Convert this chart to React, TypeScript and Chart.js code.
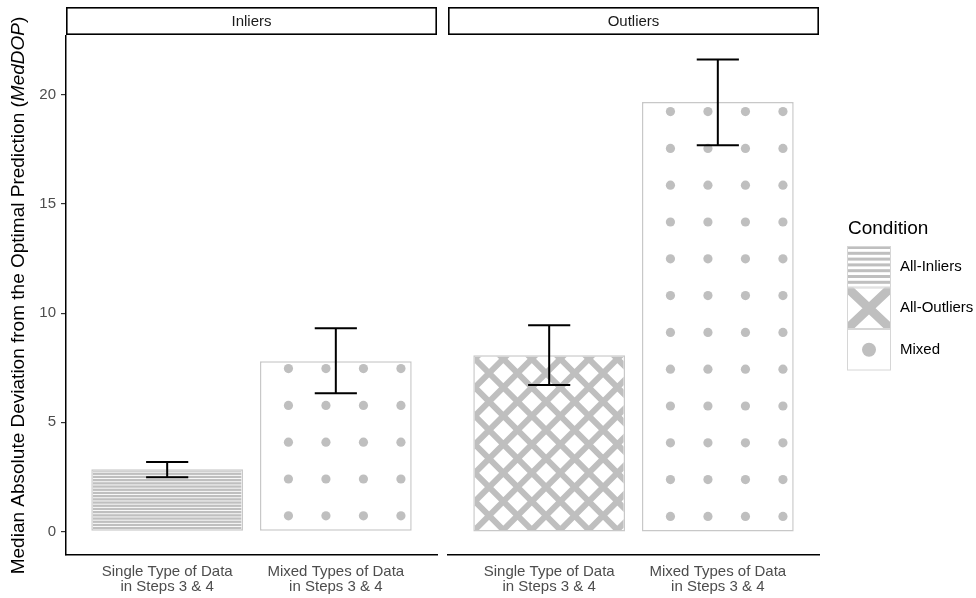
import React, { useEffect, useRef } from "react";
import { Chart, registerables } from "chart.js";
Chart.register(...registerables);

// ---------- data ----------
const panels = ["Inliers", "Outliers"];
const categories = [
  ["Single Type of Data", "in Steps 3 & 4"],
  ["Mixed Types of Data", "in Steps 3 & 4"],
];
const xPositions = [1, 2];
const inliersValues = [2.85, 7.8];
const inliersLow = [2.48, 6.33];
const inliersHigh = [3.18, 9.31];
const inliersCondition = ["All-Inliers", "Mixed"];
const outliersValues = [8.07, 19.68];
const outliersLow = [6.71, 17.7];
const outliersHigh = [9.45, 21.62];
const outliersCondition = ["All-Outliers", "Mixed"];
const legendConditions = ["All-Inliers", "All-Outliers", "Mixed"];
const legendTitle = "Condition";
const yTicks = [0, 5, 10, 15, 20];
const yTitleMain = "Median Absolute Deviation from the Optimal Prediction (";
const yTitleItalic = "MedDOP";
const yTitleEnd = ")";

// ---------- styles ----------
const FONT = "'Liberation Sans', Arial, Helvetica, sans-serif";
const PATTERN_GRAY = "#bfbfbf";
const BAR_BORDER = "#c8c8c8";
const W = 976;
const H = 598;

const allHigh = [...inliersHigh, ...outliersHigh];
const dataMax = Math.max(...allHigh);
const dataMin = 0;
const yExp = (dataMax - dataMin) * 0.05;
const yMin = dataMin - yExp;
const yMax = dataMax + yExp;

function drawStripes(ctx: CanvasRenderingContext2D, l: number, t: number, r: number, b: number, period: number, grayH: number) {
  ctx.fillStyle = PATTERN_GRAY;
  for (let y = b; y > t - period; y -= period) {
    ctx.fillRect(l, y - grayH, r - l, grayH);
  }
}

function drawCrosshatch(ctx: CanvasRenderingContext2D, l: number, t: number, r: number, b: number, p: number, lw: number) {
  ctx.strokeStyle = PATTERN_GRAY;
  ctx.lineWidth = lw;
  const L = (b - t) + (r - l) + p;
  const n = Math.ceil(L / p) + 1;
  ctx.beginPath();
  for (let k = -n; k <= n; k++) {
    const x = l + k * p;
    ctx.moveTo(x - L, b + L);
    ctx.lineTo(x + L, b - L);
    ctx.moveTo(x - L, b - L);
    ctx.lineTo(x + L, b + L);
  }
  ctx.stroke();
}

function drawDots(ctx: CanvasRenderingContext2D, l: number, t: number, r: number, b: number) {
  const offX = 27, offY = 13.5, sx = 37.5, sy = 36.8, rad = 4.6;
  ctx.fillStyle = PATTERN_GRAY;
  for (let cy = b - offY; cy - rad > t; cy -= sy) {
    for (let cx = l + offX; cx + rad < r; cx += sx) {
      ctx.beginPath();
      ctx.arc(cx, cy, rad, 0, Math.PI * 2);
      ctx.fill();
    }
  }
}

function fillPattern(ctx: CanvasRenderingContext2D, cond: string, l: number, t: number, r: number, b: number) {
  ctx.save();
  ctx.beginPath();
  ctx.rect(l, t, r - l, b - t);
  ctx.clip();
  if (cond === "All-Inliers") drawStripes(ctx, l, t, r, b, 3.2, 2.3);
  else if (cond === "All-Outliers") drawCrosshatch(ctx, l, t, r, b, 28.5, 6);
  else drawDots(ctx, l, t, r, b);
  ctx.restore();
}

function panelPlugin(idx: number) {
  const conds = idx === 0 ? inliersCondition : outliersCondition;
  const lows = idx === 0 ? inliersLow : outliersLow;
  const highs = idx === 0 ? inliersHigh : outliersHigh;
  return {
    id: "panel" + idx,
    afterDatasetsDraw(chart: any) {
      const ctx: CanvasRenderingContext2D = chart.ctx;
      const meta = chart.getDatasetMeta(0);
      const xs = chart.scales.x;
      const ys = chart.scales.y;
      const bw = 1.5;
      meta.data.forEach((el: any, i: number) => {
        const l = el.x - el.width / 2 + bw;
        const r = el.x + el.width / 2 - bw;
        const t = Math.min(el.y, el.base) + bw;
        const b = Math.max(el.y, el.base) - bw;
        fillPattern(ctx, conds[i], l, t, r, b);
      });
      // error bars
      ctx.save();
      ctx.strokeStyle = "#000";
      ctx.lineWidth = 2;
      xPositions.forEach((xv, i) => {
        const cx = xs.getPixelForValue(xv);
        const x0 = xs.getPixelForValue(xv - 0.125);
        const x1 = xs.getPixelForValue(xv + 0.125);
        const yl = ys.getPixelForValue(lows[i]);
        const yh = ys.getPixelForValue(highs[i]);
        ctx.beginPath();
        ctx.moveTo(cx, yl);
        ctx.lineTo(cx, yh);
        ctx.moveTo(x0, yl);
        ctx.lineTo(x1, yl);
        ctx.moveTo(x0, yh);
        ctx.lineTo(x1, yh);
        ctx.stroke();
      });
      ctx.restore();
    },
    afterDraw(chart: any) {
      const ctx: CanvasRenderingContext2D = chart.ctx;
      const ca = chart.chartArea;
      // strip
      ctx.save();
      ctx.fillStyle = "#fff";
      ctx.fillRect(ca.left, 7, ca.right - ca.left, 28);
      ctx.strokeStyle = "#000";
      ctx.lineWidth = 1.6;
      ctx.strokeRect(ca.left + 0.8, 7.8, ca.right - ca.left - 1.6, 26.4);
      ctx.fillStyle = "#1a1a1a";
      ctx.font = `15px ${FONT}`;
      ctx.textAlign = "center";
      ctx.textBaseline = "middle";
      ctx.fillText(panels[idx], (ca.left + ca.right) / 2, 21.5);
      ctx.restore();

      if (idx === 0) {
        // y axis title with italic part
        ctx.save();
        ctx.translate(18.5, (ca.top + ca.bottom) / 2);
        ctx.rotate(-Math.PI / 2);
        ctx.fillStyle = "#000";
        ctx.textBaseline = "middle";
        ctx.textAlign = "left";
        const fN = `19px ${FONT}`;
        const fI = `italic 19px ${FONT}`;
        ctx.font = fN;
        const w1 = ctx.measureText(yTitleMain).width;
        const w3 = ctx.measureText(yTitleEnd).width;
        ctx.font = fI;
        const w2 = ctx.measureText(yTitleItalic).width;
        let x = -(w1 + w2 + w3) / 2;
        ctx.font = fN;
        ctx.fillText(yTitleMain, x, 0);
        x += w1;
        ctx.font = fI;
        ctx.fillText(yTitleItalic, x, 0);
        x += w2;
        ctx.font = fN;
        ctx.fillText(yTitleEnd, x, 0);
        ctx.restore();
      } else {
        // legend
        ctx.save();
        ctx.fillStyle = "#000";
        ctx.font = `19px ${FONT}`;
        ctx.textAlign = "left";
        ctx.textBaseline = "middle";
        ctx.fillText(legendTitle, 848, 229);
        const kx = 847, kw = 44, ky = 246, kh = 41.5;
        legendConditions.forEach((c, i) => {
          const t = ky + i * kh;
          ctx.save();
          ctx.beginPath();
          ctx.rect(kx, t, kw, kh);
          ctx.clip();
          ctx.fillStyle = "#fff";
          ctx.fillRect(kx, t, kw, kh);
          if (c === "All-Inliers") {
            ctx.fillStyle = PATTERN_GRAY;
            for (let y = t; y < t + kh - 3; y += 5.8) ctx.fillRect(kx, y, kw, 3);
          } else if (c === "All-Outliers") {
            ctx.strokeStyle = PATTERN_GRAY;
            ctx.lineWidth = 9;
            ctx.beginPath();
            ctx.moveTo(kx, t);
            ctx.lineTo(kx + kw, t + kh);
            ctx.moveTo(kx + kw, t);
            ctx.lineTo(kx, t + kh);
            ctx.stroke();
          } else {
            ctx.fillStyle = PATTERN_GRAY;
            ctx.beginPath();
            ctx.arc(kx + kw / 2, t + kh / 2, 7, 0, Math.PI * 2);
            ctx.fill();
          }
          ctx.restore();
          ctx.strokeStyle = "#d6d6d6";
          ctx.lineWidth = 1;
          ctx.strokeRect(kx + 0.5, t + 0.5, kw - 1, kh - 1);
          ctx.fillStyle = "#000";
          ctx.font = `15px ${FONT}`;
          ctx.fillText(c, 900, t + kh / 2);
        });
        ctx.restore();
      }
    },
  };
}

function makeChart(canvas: HTMLCanvasElement, idx: number) {
  const values = idx === 0 ? inliersValues : outliersValues;
  return new Chart(canvas, {
    type: "bar",
    data: {
      datasets: [
        {
          data: xPositions.map((x, i) => ({ x, y: values[i] })),
          backgroundColor: "#ffffff",
          borderColor: BAR_BORDER,
          borderWidth: 1.5,
          borderSkipped: false,
          categoryPercentage: 1,
          barPercentage: 0.9,
        } as any,
      ],
    },
    options: {
      animation: false,
      responsive: false,
      events: [],
      layout: {
        padding: {
          left: idx === 0 ? 0 : 448,
          right: idx === 0 ? W - 437 : W - 819,
          top: 36,
          bottom: 0,
        },
      },
      plugins: { legend: { display: false }, tooltip: { enabled: false } },
      scales: {
        x: {
          type: "linear",
          offset: false,
          min: 0.4,
          max: 2.6,
          afterBuildTicks: (s: any) => {
            s.ticks = xPositions.map((v) => ({ value: v }));
          },
          afterFit: (s: any) => {
            s.height = 43;
          },
          grid: { display: false, drawTicks: false, offset: false },
          border: { display: true, color: "#000", width: 1.5 },
          ticks: {
            autoSkip: false,
            maxRotation: 0,
            padding: 9,
            color: "#4d4d4d",
            font: { family: FONT, size: 15, lineHeight: 1.0 },
            callback: (_v: any, i: number) => categories[i],
          },
        },
        y: {
          display: idx === 0,
          min: yMin,
          max: yMax,
          afterBuildTicks: (s: any) => {
            s.ticks = yTicks.map((v) => ({ value: v }));
          },
          afterFit: (s: any) => {
            if (idx === 0) s.width = 66;
          },
          grid: { drawOnChartArea: false, drawTicks: true, tickLength: 5, color: "#333333", lineWidth: 1.2 },
          border: { display: true, color: "#000", width: 1.5 },
          ticks: {
            padding: 5,
            color: "#4d4d4d",
            font: { family: FONT, size: 15 },
            callback: (v: any) => String(v),
          },
        },
      },
    } as any,
    plugins: [panelPlugin(idx)],
  });
}

export default function App() {
  const refA = useRef<HTMLCanvasElement>(null);
  const refB = useRef<HTMLCanvasElement>(null);
  useEffect(() => {
    const charts = [makeChart(refA.current!, 0), makeChart(refB.current!, 1)];
    return () => charts.forEach((c) => c.destroy());
  }, []);
  return (
    <div style={{ position: "fixed", left: 0, top: 0, width: W, height: H, background: "#fff" }}>
      <canvas ref={refA} width={W} height={H} style={{ position: "absolute", left: 0, top: 0 }} />
      <canvas ref={refB} width={W} height={H} style={{ position: "absolute", left: 0, top: 0 }} />
    </div>
  );
}
